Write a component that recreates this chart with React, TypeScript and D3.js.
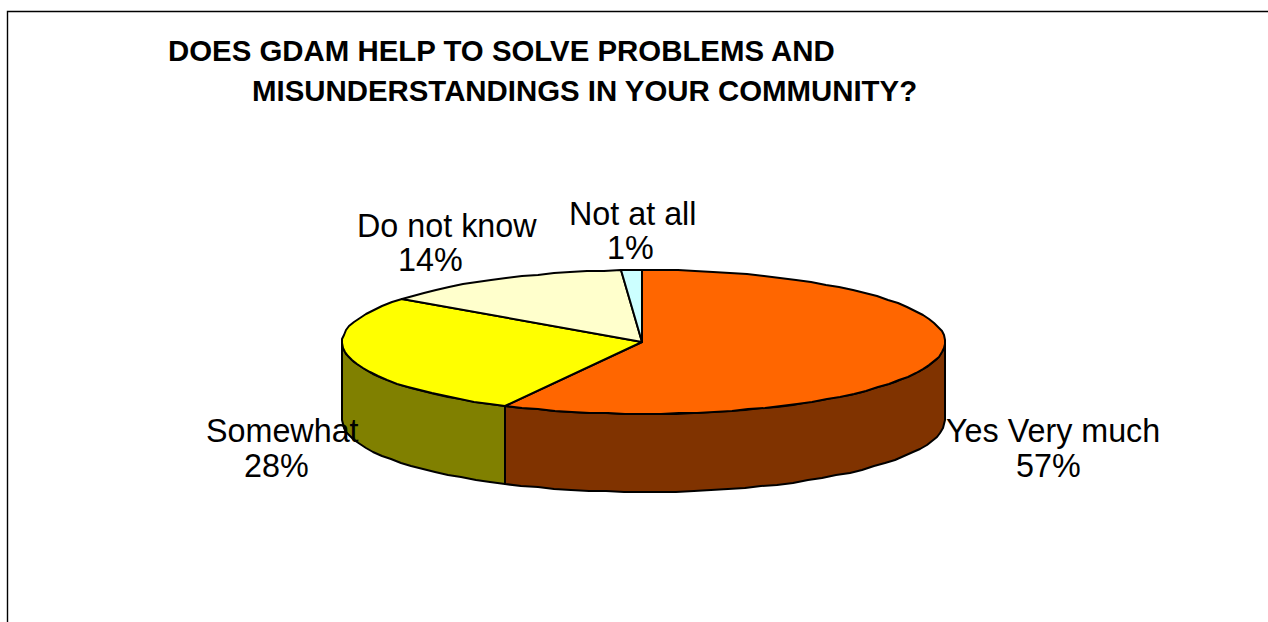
import React from "react";
import * as d3 from "d3";

const categories = ["Yes Very much", "Somewhat", "Do not know", "Not at all"];
const values = [57.65, 27.65, 13.6, 1.1];
const percentLabels = ["57%", "28%", "14%", "1%"];
const topColors = ["#FF6600", "#FFFF00", "#FFFFCC", "#CCFFFF"];
const sideColors = ["#803300", "#808000", "#808066", "#668080"];
// left edge and baseline of each label's name line and percent line
const labelPlaces = [
  [946, 442, 1016, 477],
  [206, 442, 244, 477],
  [357, 237, 398, 271],
  [569, 225, 607, 259],
];
const titleLines = [
  { text: "DOES GDAM HELP TO SOLVE PROBLEMS AND", x: 168, y: 61 },
  { text: "MISUNDERSTANDINGS IN YOUR COMMUNITY?", x: 252, y: 101 },
];

const W = 1268, H = 622;
const cx = 643.5, cy = 342, rx = 301.5, ry = 72, depth = 78;
const tilt = -0.005;

const px = d3.scaleLinear().domain([-1, 1]).range([cx - rx, cx + rx]);
const py = d3.scaleLinear().domain([-1, 1]).range([cy - ry, cy + ry]);
const pt = (a: number): [number, number] => [Math.round(px(Math.sin(a))), Math.round(py(-Math.cos(a)))];

const arcs = d3.pie<number>().sort(null).startAngle(tilt).endAngle(2 * Math.PI + tilt)(values);
const line = d3.line();

function rim(a0: number, a1: number): [number, number][] {
  const n = Math.max(1, Math.ceil((a1 - a0) / 0.06));
  return d3.range(n + 1).map((i) => pt(a0 + ((a1 - a0) * i) / n));
}

export default function App() {
  const front = arcs
    .map((a, i) => ({ i, a0: Math.max(a.startAngle, Math.PI / 2), a1: Math.min(a.endAngle, (3 * Math.PI) / 2) }))
    .filter((s) => s.a1 > s.a0);
  return (
    <svg width={W} height={H} style={{ position: "absolute", left: 0, top: 0, background: "#fff" }}>
      <path d={`M7.5,${H}V11.5H${W}`} fill="none" stroke="#000" strokeWidth={1.4} />
      {front.map((s) => {
        const top = rim(s.a0, s.a1);
        const bottom = top.map(([x, y]) => [x, y + depth] as [number, number]).reverse();
        return (
          <path key={s.i} d={(line([...top, ...bottom]) as string) + "Z"} fill={sideColors[s.i]}
            stroke="#000" strokeWidth={2} strokeLinejoin="round" />
        );
      })}
      {arcs.map((a, i) => (
        <path key={i} d={(line([[cx - 1.5, cy], ...rim(a.startAngle, a.endAngle)]) as string) + "Z"}
          fill={topColors[i]} stroke="#000" strokeWidth={2} strokeLinejoin="round" />
      ))}
      <g fontFamily="'Liberation Sans', Arial, sans-serif" fontWeight="bold" fontSize={29.4} fill="#000">
        {titleLines.map((t) => (
          <text key={t.text} x={t.x} y={t.y}>{t.text}</text>
        ))}
      </g>
      <g fontFamily="'Liberation Sans', Arial, sans-serif" fontSize={32.3} fill="#000">
        {categories.map((c, i) => (
          <g key={c}>
            <text x={labelPlaces[i][0]} y={labelPlaces[i][1]}>{c}</text>
            <text x={labelPlaces[i][2]} y={labelPlaces[i][3]}>{percentLabels[i]}</text>
          </g>
        ))}
      </g>
    </svg>
  );
}
